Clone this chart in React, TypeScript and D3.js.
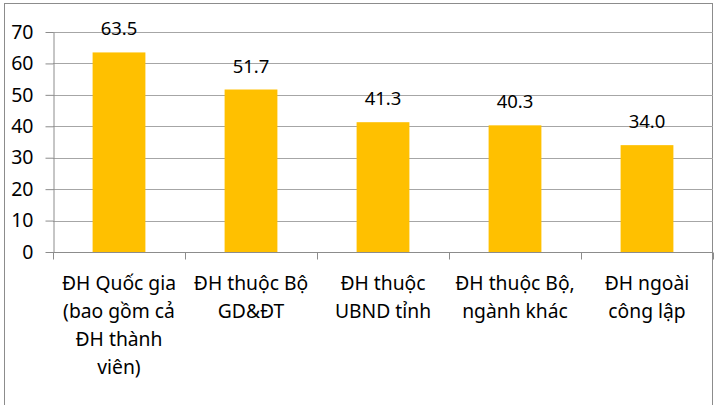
import React, {useEffect, useRef} from "react";
import * as d3 from "d3";

// tick labels (already wrapped as in the picture)
const categories: string[][] = [
    ["ĐH Quốc gia", "(bao gồm cả", "ĐH thành", "viên)"],
    ["ĐH thuộc Bộ", "GD&ĐT"],
    ["ĐH thuộc", "UBND tỉnh"],
    ["ĐH thuộc Bộ,", "ngành khác"],
    ["ĐH ngoài", "công lập"],
];
const values = [63.5, 51.7, 41.3, 40.3, 34.0];
const yTicks = [0, 10, 20, 30, 40, 50, 60, 70];

const FONT = "'Noto Sans', sans-serif";

export default function App() {
    const ref = useRef<SVGSVGElement>(null);

    useEffect(() => {
        const width = 715;
        const height = 405;
        const margin = {top: 32, right: 2, bottom: 153, left: 53};
        const svg: any = d3.select(ref.current);
        svg.selectAll("*").remove();
        svg.attr("width", width).attr("height", height);

        svg.append("rect")
            .attr("x", 4.5).attr("y", 3.5)
            .attr("width", 708).attr("height", 420)
            .attr("fill", "#fff")
            .attr("stroke", "#8c8c8c")
            .attr("stroke-width", 1);

        const plotW = width - margin.left - margin.right;
        const plotH = height - margin.top - margin.bottom;
        const g = svg.append("g")
            .attr("transform", `translate(${margin.left},${margin.top})`);

        const x = d3.scaleBand<number>()
            .domain(values.map((_, i) => i))
            .range([0, 660])
            .paddingInner(0.6)
            .paddingOuter(0.3);
        const y = d3.scaleLinear().domain([0, 70]).range([plotH, 0]);

        // gridlines
        g.append("g")
            .selectAll("line")
            .data(yTicks.filter(t => t > 0))
            .enter()
            .append("line")
            .attr("x1", 0).attr("x2", 660)
            .attr("y1", (t: number) => Math.round(y(t)) + 0.5)
            .attr("y2", (t: number) => Math.round(y(t)) + 0.5)
            .attr("stroke", "#a6a6a6")
            .attr("stroke-width", 1);

        // bars
        g.append("g")
            .selectAll("rect")
            .data(values)
            .enter()
            .append("rect")
            .attr("x", (_: number, i: number) => x(i)!)
            .attr("y", (d: number) => y(d))
            .attr("width", x.bandwidth())
            .attr("height", (d: number) => plotH - y(d))
            .attr("fill", "#ffc000");

        // value labels
        g.append("g")
            .selectAll("text")
            .data(values)
            .enter()
            .append("text")
            .attr("x", (_: number, i: number) => x(i)! + x.bandwidth() / 2)
            .attr("y", (d: number) => y(d) - 17)
            .attr("text-anchor", "middle")
            .attr("font-family", FONT)
            .attr("font-size", 18.5)
            .attr("fill", "#000")
            .text((d: number) => d.toFixed(1));

        // y axis
        const yAxis = g.append("g")
            .attr("transform", "translate(0.5,0)")
            .call(d3.axisLeft(y).tickValues(yTicks).tickSize(8).tickPadding(12).tickSizeOuter(0));
        yAxis.select(".domain").attr("stroke", "#8c8c8c");
        yAxis.selectAll(".tick line").attr("stroke", "#8c8c8c");
        yAxis.selectAll(".tick text")
            .attr("font-family", FONT)
            .attr("font-size", 19.5)
            .attr("fill", "#000");

        // x axis
        const step = 660 / categories.length;
        const xAxis = g.append("g")
            .attr("transform", `translate(0,${Math.round(plotH) + 0.5})`);
        xAxis.append("line")
            .attr("x1", 0).attr("x2", 660)
            .attr("stroke", "#8c8c8c");
        xAxis.selectAll("line.tk")
            .data(d3.range(categories.length + 1))
            .enter()
            .append("line")
            .attr("class", "tk")
            .attr("x1", (i: number) => Math.round(i * step) + 0.5)
            .attr("x2", (i: number) => Math.round(i * step) + 0.5)
            .attr("y1", 0).attr("y2", 7)
            .attr("stroke", "#8c8c8c");
        const lbl = xAxis.selectAll("text.cat")
            .data(categories)
            .enter()
            .append("text")
            .attr("class", "cat")
            .attr("text-anchor", "middle")
            .attr("font-family", FONT)
            .attr("font-size", 19.3)
            .attr("fill", "#000");
        lbl.each(function (this: SVGTextElement, lines: string[], i: number) {
            const t = d3.select(this);
            lines.forEach((s, k) => {
                t.append("tspan")
                    .attr("x", x(i)! + x.bandwidth() / 2)
                    .attr("y", 37 + k * 28)
                    .text(s);
            });
        });
    }, []);

    return (
        <div style={{position: "absolute", left: 0, top: 0}}>
            <svg ref={ref}></svg>
        </div>
    );
}
